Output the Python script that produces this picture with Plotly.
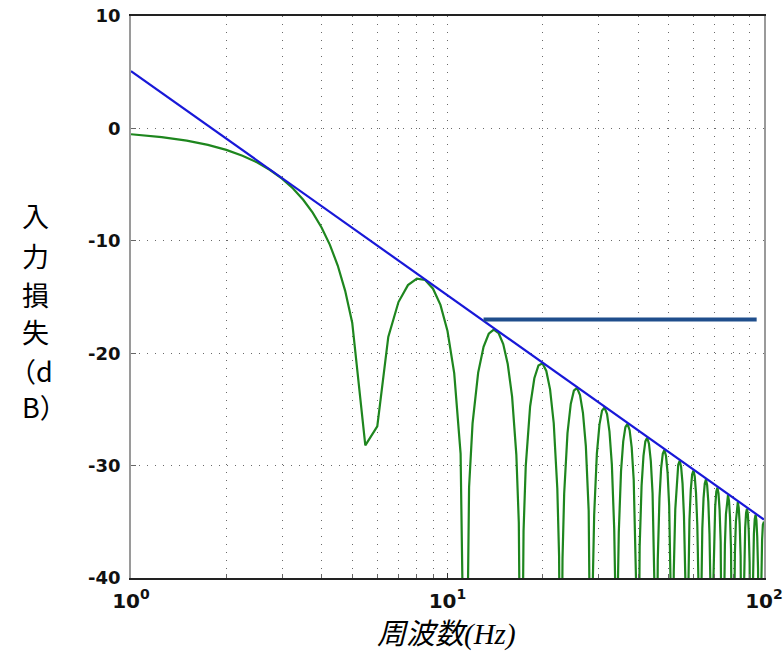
import plotly.graph_objects as go

# ---------------- data ----------------
# green curve: insertion loss vs. frequency (values below -40 dB fall off the axis)
freq_hz = [
    1, 1.25, 1.5, 1.75, 2, 2.25, 2.5, 2.75, 3, 3.25, 3.5, 3.75, 4, 4.25, 4.5, 4.75, 5, 5.5, 6,
    6.5, 7, 7.5, 8, 8.5, 9, 9.5, 10, 10.5, 11, 11.4,
    11.7, 12, 12.5, 13, 13.5, 14, 14.5, 15, 15.5, 16, 16.5, 16.8, 17.1,
    17.39, 17.67, 18.24, 18.81, 19.38, 19.95, 20.52, 21.09, 21.66, 22.23, 22.52, 22.8,
    23.09, 23.37, 23.94, 24.51, 25.08, 25.65, 26.22, 26.79, 27.36, 27.93, 28.22, 28.5,
    28.79, 29.07, 29.64, 30.21, 30.78, 31.35, 31.92, 32.49, 33.06, 33.63, 33.92, 34.2,
    34.49, 34.77, 35.34, 35.91, 36.48, 37.05, 37.62, 38.19, 38.76, 39.33, 39.62, 39.9,
    40.19, 40.47, 41.04, 41.61, 42.18, 42.75, 43.32, 43.89, 44.46, 45.03, 45.32, 45.6,
    45.89, 46.17, 46.74, 47.31, 47.88, 48.45, 49.02, 49.59, 50.16, 50.73, 51.02, 51.3,
    51.59, 51.87, 52.44, 53.01, 53.58, 54.15, 54.72, 55.29, 55.86, 56.43, 56.72, 57.0,
    57.29, 57.57, 58.14, 58.71, 59.28, 59.85, 60.42, 60.99, 61.56, 62.13, 62.42, 62.7,
    62.99, 63.27, 63.84, 64.41, 64.98, 65.55, 66.12, 66.69, 67.26, 67.83, 68.12, 68.4,
    68.69, 68.97, 69.54, 70.11, 70.68, 71.25, 71.82, 72.39, 72.96, 73.53, 73.82, 74.1,
    74.39, 74.67, 75.24, 75.81, 76.38, 76.95, 77.52, 78.09, 78.66, 79.23, 79.52, 79.8,
    80.09, 80.37, 80.94, 81.51, 82.08, 82.65, 83.22, 83.79, 84.36, 84.93, 85.22, 85.5,
    85.79, 86.07, 86.64, 87.21, 87.78, 88.35, 88.92, 89.49, 90.06, 90.63, 90.92, 91.2,
    91.49, 91.77, 92.34, 92.91, 93.48, 94.05, 94.62, 95.19, 95.76, 96.33, 96.62, 96.9,
    97.19, 97.47, 98.04, 98.61, 99.18, 100,
]
loss_db = [
    -0.52, -0.78, -1.09, -1.47, -1.91, -2.43, -3.02, -3.70, -4.47, -5.35, -6.35, -7.50, -8.82, -10.36, -12.20, -14.45, -17.29, -28.2, -26.5,
    -18.55, -15.45, -13.94, -13.36, -13.49, -14.26, -15.70, -18.03, -21.77, -28.93, -60,
    -31.93, -26.25, -21.73, -19.43, -18.27, -17.91, -18.21, -19.18, -20.96, -23.87, -29.02, -35.08, -60,
    -35.81, -30.04, -24.74, -22.23, -21.09, -20.90, -21.58, -23.22, -26.23, -32.04, -38.06, -60,
    -38.28, -32.48, -27.11, -24.53, -23.33, -23.08, -23.72, -25.30, -28.27, -34.02, -40.02, -60,
    -40.20, -34.37, -28.96, -26.35, -25.11, -24.83, -25.42, -26.98, -29.91, -35.64, -41.62, -60,
    -41.77, -35.93, -30.49, -27.85, -26.58, -26.28, -26.85, -28.38, -31.29, -37.00, -42.97, -60,
    -43.09, -37.25, -31.79, -29.13, -27.85, -27.52, -28.08, -29.59, -32.48, -38.17, -44.14, -60,
    -44.25, -38.39, -32.92, -30.24, -28.95, -28.61, -29.15, -30.65, -33.53, -39.21, -45.17, -60,
    -45.26, -39.40, -33.92, -31.23, -29.92, -29.57, -30.11, -31.60, -34.47, -40.13, -46.09, -60,
    -46.17, -40.31, -34.81, -32.12, -30.80, -30.44, -30.97, -32.45, -35.31, -40.97, -46.92, -60,
    -47.00, -41.13, -35.62, -32.92, -31.60, -31.23, -31.75, -33.22, -36.08, -41.73, -47.68, -60,
    -47.75, -41.88, -36.37, -33.66, -32.33, -31.96, -32.47, -33.94, -36.78, -42.43, -48.38, -60,
    -48.44, -42.57, -37.05, -34.34, -33.00, -32.63, -33.13, -34.59, -37.44, -43.08, -49.02, -60,
    -49.08, -43.20, -37.69, -34.97, -33.63, -33.25, -33.75, -35.21, -38.05, -43.68, -49.62, -60,
    -49.68, -43.80, -38.28, -35.55, -34.21, -33.83, -34.32, -35.78, -38.61, -44.25, -50.19, -60,
    -50.24, -44.36, -38.83, -36.10, -34.76, -34.37, -34.86, -36.31, -39.15, -44.78, -50.71, -60,
    -50.76, -44.88, -39.35, -36.62, -35.27, -34.98,
]

# blue envelope line (-20 dB/decade)
envelope_freq = [1, 100]
envelope_db = [5.1, -34.8]

# dark-blue horizontal reference line
level_freq = [13.0, 94.8]
level_db = [-17.0, -17.0]

# axis ticks
x_tickvals = [1, 10, 100]
x_ticktext = ["10<sup>0</sup>", "10<sup>1</sup>", "10<sup>2</sup>"]
x_minorvals = [2, 3, 4, 5, 6, 7, 8, 9, 20, 30, 40, 50, 60, 70, 80, 90]
y_tickvals = [-40, -30, -20, -10, 0, 10]
y_ticktext = ["-40", "-30", "-20", "-10", "0", "10"]

y_title_lines = ["入", "力", "損", "失", "（d", "B）"]
x_title = "周波数(Hz)"

# ---------------- figure ----------------
W, H = 783, 669
L, R, T, B = 131, 19, 16, 91
PW, PH = W - L - R, H - T - B


def px_x(px):
    return (px - L) / PW


def px_y(py):
    return (H - B - py) / PH


fig = go.Figure()
fig.add_trace(go.Scatter(x=freq_hz, y=loss_db, mode="lines",
                         line=dict(color="#1e861e", width=2.2), hoverinfo="skip"))
fig.add_trace(go.Scatter(x=envelope_freq, y=envelope_db, mode="lines",
                         line=dict(color="#1818d8", width=2.2), hoverinfo="skip"))
fig.add_trace(go.Scatter(x=level_freq, y=level_db, mode="lines",
                         line=dict(color="#1f4e8c", width=4), hoverinfo="skip"))

grid = dict(gridcolor="#6a6a6a", griddash="1px,7px", gridwidth=1)

fig.update_xaxes(
    type="log", range=[0, 2], automargin=False,
    tickmode="array", tickvals=x_tickvals, ticktext=x_ticktext,
    tickfont=dict(family="DejaVu Sans", size=20, color="#111", weight="bold"),
    ticks="inside", ticklen=5, tickcolor="#333", ticklabelstandoff=4,
    showline=True, linecolor="#222", linewidth=1.6, mirror=True,
    showgrid=True, **grid,
    minor=dict(tickmode="array", tickvals=x_minorvals, ticks="inside", ticklen=4,
               tickcolor="#666", showgrid=True, **grid),
    zeroline=False,
)
fig.update_yaxes(
    range=[-40, 10], automargin=False,
    tickmode="array", tickvals=y_tickvals, ticktext=y_ticktext,
    tickfont=dict(family="DejaVu Sans", size=18, color="#111", weight="bold"),
    ticks="inside", ticklen=5, tickcolor="#666", ticklabelstandoff=5,
    showline=True, linecolor="#9a9a9a", linewidth=1.5, mirror=True,
    showgrid=True, **grid,
    zeroline=False,
)

annotations = []
y_centers = [216, 256, 294, 331, 370, 406]
for txt, yc in zip(y_title_lines, y_centers):
    if txt.startswith("（"):
        xa, xp = "right", 54
    else:
        xa, xp = "left", 21
    annotations.append(dict(
        text=txt, xref="paper", yref="paper", x=px_x(xp), y=px_y(yc),
        xanchor=xa, yanchor="middle", showarrow=False, borderpad=0,
        font=dict(family="Noto Sans CJK JP", size=27, color="#000"),
    ))
annotations.append(dict(
    text=x_title, xref="paper", yref="paper", x=px_x(446), y=px_y(634),
    xanchor="center", yanchor="middle", showarrow=False,
    font=dict(family="Liberation Serif, Noto Sans CJK JP", size=29, color="#000",
              style="italic"),
))

fig.update_layout(
    width=W, height=H,
    margin=dict(l=L, r=R, t=T, b=B, pad=0, autoexpand=False),
    paper_bgcolor="white", plot_bgcolor="white",
    showlegend=False,
    annotations=annotations,
)

fig.write_html("out.html")
